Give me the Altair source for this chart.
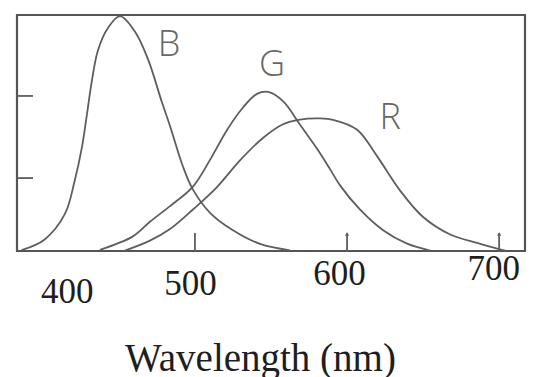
import altair as alt
import pandas as pd

# ---- data ----
b_nm = [386, 401, 414.5, 421, 425.7, 429, 432.2, 436.2, 442.8, 450.7, 460.5, 469, 478.3,
        483.6, 492, 498.7, 509.9, 525, 542.8, 562.5]
b_val = [0.004, 0.048, 0.157, 0.30, 0.44, 0.58, 0.72, 0.85, 0.945, 0.995, 0.93, 0.815, 0.63,
         0.53, 0.36, 0.26, 0.162, 0.088, 0.03, 0.003]
g_nm = [437.5, 459.2, 470.4, 483.6, 498.7, 509.9, 521, 531.6, 540.8, 548, 557.9, 569,
        580.3, 588.8, 595.4, 608.6, 623.7, 639.5, 654.6]
g_val = [0.005, 0.062, 0.124, 0.19, 0.273, 0.386, 0.512, 0.608, 0.666, 0.674, 0.635, 0.536,
         0.433, 0.347, 0.278, 0.175, 0.088, 0.031, 0.002]
r_nm = [454, 470.4, 483.6, 498.7, 514.5, 529.6, 544.7, 557.9, 569, 582.2, 590.8, 606.6,
        619.7, 634.9, 650, 667.8, 685.5, 698.7, 704]
r_val = [0.002, 0.044, 0.093, 0.176, 0.271, 0.384, 0.479, 0.537, 0.557, 0.562, 0.556, 0.514,
         0.402, 0.256, 0.144, 0.07, 0.034, 0.01, 0.002]

curve_names = ["B", "G", "R"]
label_nm = [482.9, 550.7, 628.3]
label_val = [0.873, 0.788, 0.562]

x_tick_labels = [400, 500, 600, 700]
x_tick_marks = [500, 600, 700]
x_arrow_marks = [600, 700]
y_tick_marks = [0.309, 0.657]

# ---- tables ----
rows = []
for name, xs, ys in zip(curve_names, [b_nm, g_nm, r_nm], [b_val, g_val, r_val]):
    for xv, yv in zip(xs, ys):
        rows.append({"series": name, "nm": xv, "val": yv})
curves = pd.DataFrame(rows)
labels = pd.DataFrame({"name": curve_names, "nm": label_nm, "val": label_val})
xticks = pd.DataFrame({"nm": x_tick_marks})
xarrows = pd.DataFrame({"nm": x_arrow_marks})
yticks = pd.DataFrame({"val": y_tick_marks})

W, H = 508, 236
INK = "#5e5e5e"
xscale = alt.Scale(domain=[383, 717], nice=False, zero=False)
yscale = alt.Scale(domain=[0, 1], nice=False, zero=False)

x_axis = alt.Axis(
    values=x_tick_labels,
    ticks=False,
    domain=False,
    grid=False,
    labelFont="Liberation Serif",
    labelFontSize=35,
    labelColor="#1e1e1e",
    labelBaseline="middle",
    labelFlush=False,
    labelOverlap=False,
    labelBound=False,
    labelPadding={"condition": [
        {"test": "datum.value == 400", "value": 40},
        {"test": "datum.value == 500", "value": 32},
        {"test": "datum.value == 600", "value": 22}], "value": 17},
    labelOffset={"condition": [
        {"test": "datum.value == 400", "value": 24},
        {"test": "datum.value == 500", "value": -5},
        {"test": "datum.value == 600", "value": -8}], "value": -6},
    title="Wavelength (nm)",
    titleFont="Liberation Serif",
    titleFontSize=39,
    titleFontWeight="normal",
    titleColor="#1e1e1e",
    titleX=243,
    titleY=119,
    titleBaseline="alphabetic",
    titleAlign="center",
)

lines = alt.Chart(curves).mark_line(
    interpolate="catmull-rom", color=INK, strokeWidth=1.8
).encode(
    x=alt.X("nm:Q", scale=xscale, axis=x_axis),
    y=alt.Y("val:Q", scale=yscale, axis=None),
    detail="series:N",
)

text = alt.Chart(labels).mark_text(
    font="Open Sans", fontSize=36, fontWeight=300, color="#666666",
    align="center", baseline="middle"
).encode(
    x=alt.X("nm:Q", scale=xscale),
    y=alt.Y("val:Q", scale=yscale),
    text="name:N",
)

bottom_ticks = alt.Chart(xticks).mark_rule(color=INK, strokeWidth=1.8).encode(
    x=alt.X("nm:Q", scale=xscale),
    y=alt.value(H),
    y2=alt.value(H - 18),
)

arrow_heads = alt.Chart(xarrows).mark_point(
    shape="triangle-up", filled=True, color=INK, size=18, opacity=1
).encode(
    x=alt.X("nm:Q", scale=xscale),
    y=alt.value(H - 17),
)

left_ticks = alt.Chart(yticks).mark_rule(color=INK, strokeWidth=1.8).encode(
    y=alt.Y("val:Q", scale=yscale),
    x=alt.value(0),
    x2=alt.value(16),
)

chart = alt.layer(lines, bottom_ticks, arrow_heads, left_ticks, text).properties(
    width=W,
    height=H,
    autosize=alt.AutoSizeParams(type="none"),
    padding={"left": 9, "top": 7, "right": 2, "bottom": 126},
    background="white",
).configure_view(
    stroke="#555555", strokeWidth=2.2
)

chart.save("out.html", embed_options={"renderer": "svg", "actions": False})
